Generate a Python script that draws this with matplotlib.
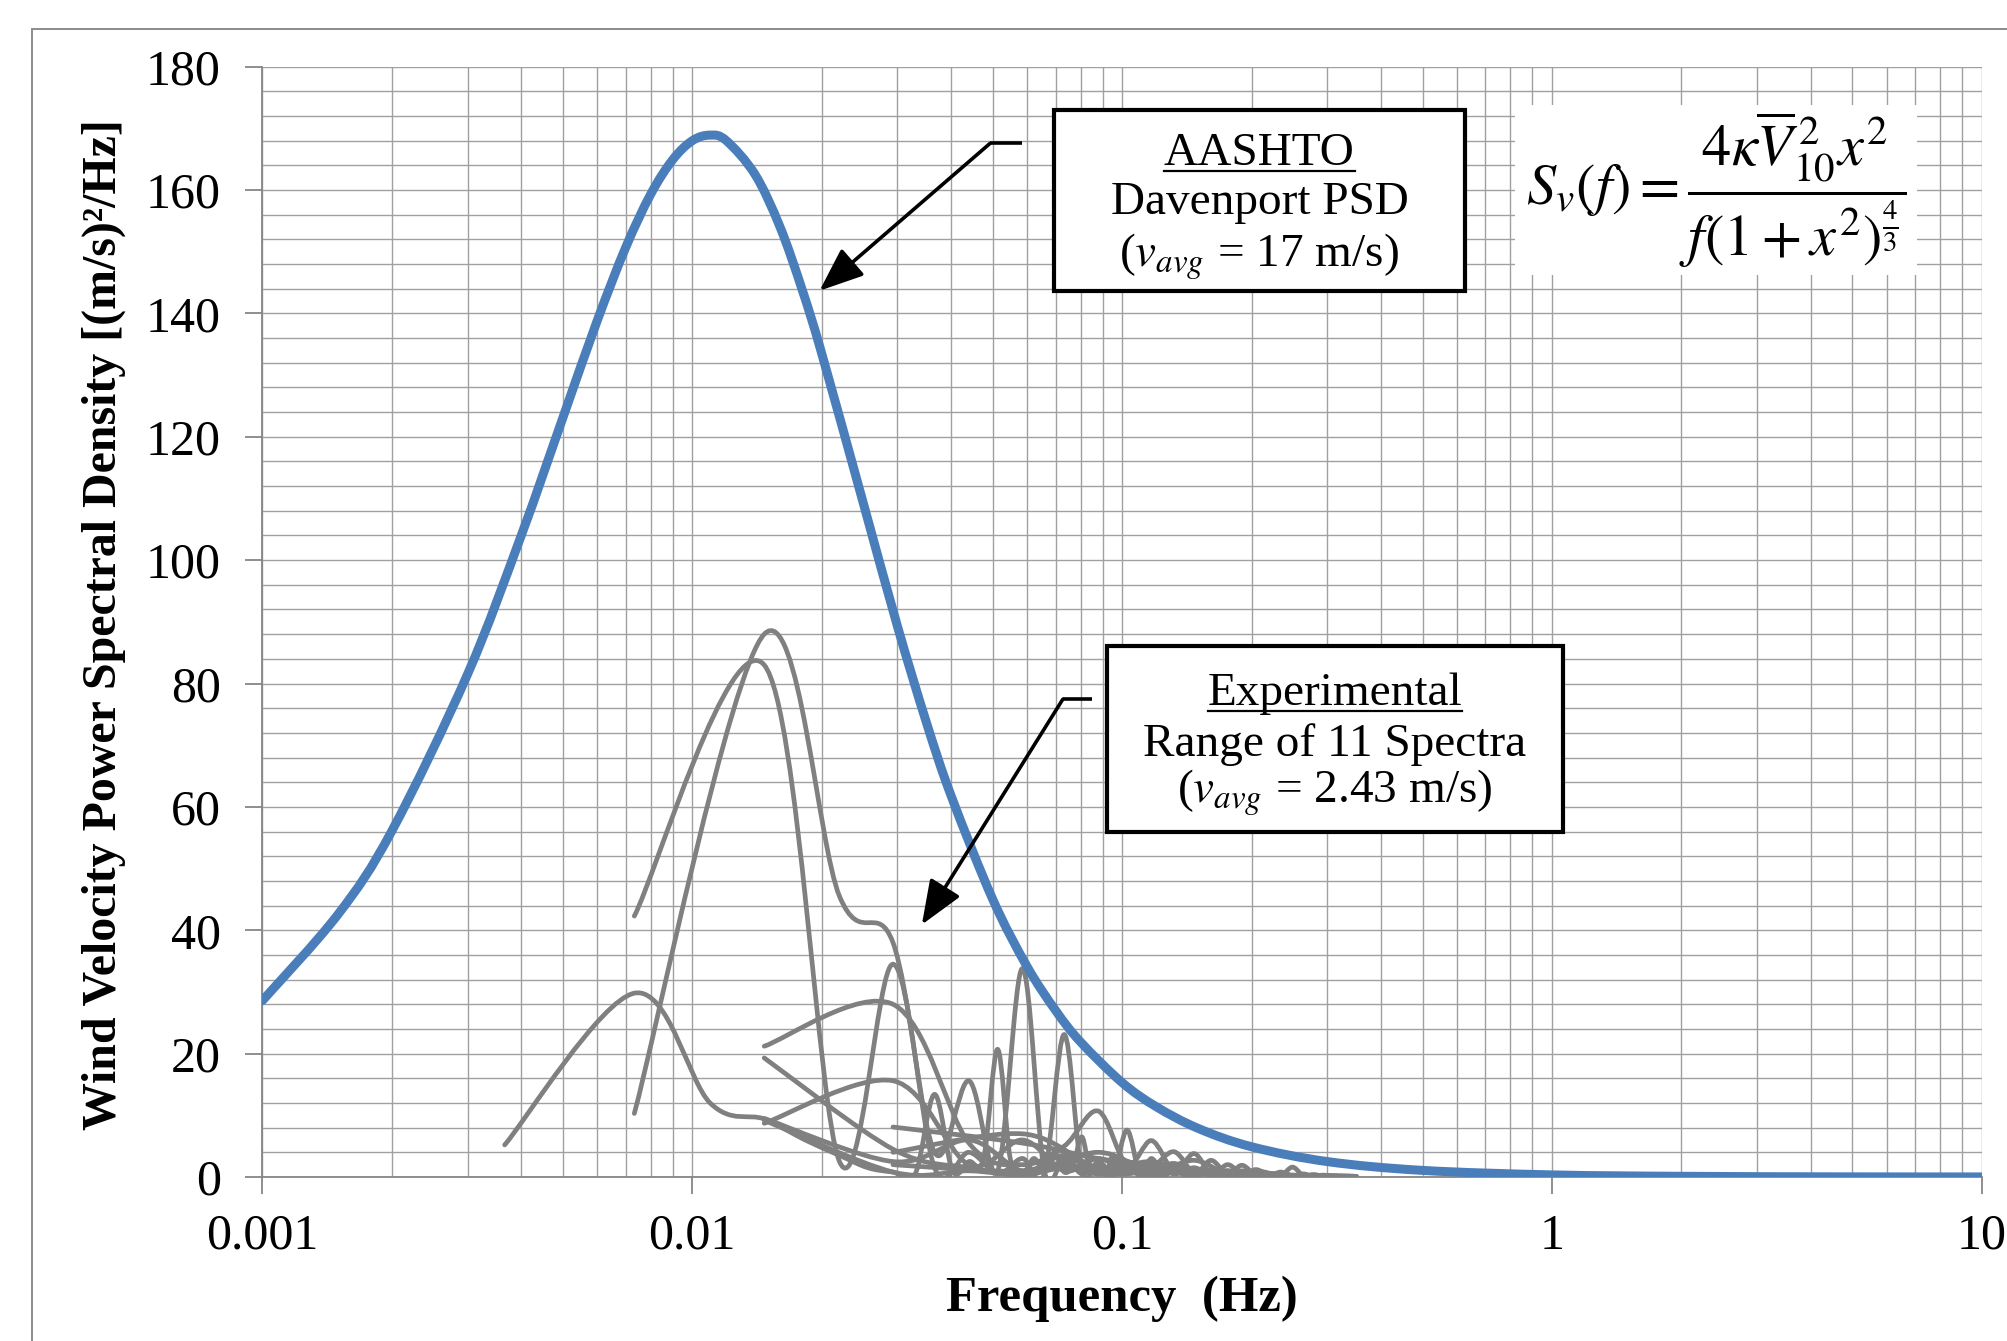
import numpy as np
import matplotlib
matplotlib.use("Agg")
import matplotlib.pyplot as plt
from matplotlib.path import Path
from matplotlib.patches import PathPatch, Rectangle
from matplotlib.ticker import FixedLocator, FuncFormatter, MultipleLocator, NullFormatter

plt.rcParams['font.family'] = ['Liberation Serif', 'DejaVu Serif']
plt.rcParams['mathtext.fontset'] = 'stix'

# AASHTO Davenport PSD (v_avg = 17 m/s)
freq_psd = [0.001, 0.0015, 0.002, 0.003, 0.004, 0.005, 0.006, 0.007, 0.008, 0.009,
            0.010, 0.011, 0.012, 0.014, 0.016, 0.018, 0.020, 0.025, 0.030, 0.035,
            0.04, 0.05, 0.06, 0.07, 0.08, 0.1, 0.12, 0.15, 0.2, 0.3, 0.5, 1, 2, 5, 10]
psd = [28.6, 42.6, 56.1, 81.5, 104.0, 123.1, 138.7, 150.7, 159.3, 164.9,
       168.0, 168.9, 168.0, 162.5, 154.0, 143.9, 133.5, 109.2, 89.3, 73.8,
       61.8, 45.0, 34.2, 27.0, 21.9, 15.3, 11.4, 7.9, 4.9, 2.5, 1.07, 0.34, 0.11, 0.02, 0.01]

# experimental spectra, three frequency resolutions
freq_a = [0.00366, 0.00733, 0.0110, 0.0147, 0.0183, 0.0220, 0.0256, 0.0293, 0.0330, 0.0366,
          0.0403, 0.0440, 0.0476, 0.0513, 0.0549, 0.0586, 0.0623, 0.0659, 0.0696, 0.0733,
          0.0769, 0.0806, 0.0842, 0.0879, 0.0916, 0.0952, 0.0989, 0.1026, 0.117, 0.132,
          0.147, 0.161, 0.176, 0.19, 0.205, 0.22, 0.25, 0.28, 0.32, 0.35]
spec_a = [5.2, 29.8, 12.0, 9.4, 6.0, 3.5, 1.5, 0.8, 0.5, 13.4,
          1.0, 2.5, 3.0, 20.7, 3.0, 0.5, 3.0, 1.0, 4.0, 0.8,
          2.0, 6.5, 1.0, 2.0, 0.5, 3.5, 0.8, 2.0, 1.0, 2.2,
          0.5, 1.2, 0.4, 1.0, 0.3, 0.6, 0.2, 0.3, 0.1, 0.1]

freq_b = [0.00733, 0.0147, 0.0220, 0.0293, 0.0366, 0.0440, 0.0513, 0.0586, 0.0659, 0.0733,
          0.0806, 0.0879, 0.0952, 0.1026, 0.110, 0.117, 0.125, 0.132, 0.147, 0.161,
          0.176, 0.19, 0.22, 0.25, 0.29, 0.35]
spec_b = [42.3, 83.0, 2.5, 34.5, 1.5, 4.0, 0.5, 3.0, 0.5, 23.1,
          0.8, 2.5, 0.5, 1.5, 0.3, 1.2, 0.3, 0.9, 0.3, 0.8,
          0.2, 0.5, 0.2, 0.3, 0.1, 0.1]
spec_c = [10.3, 88.0, 45.5, 38.0, 4.0, 15.6, 1.0, 33.8, 1.0, 3.0,
          0.5, 1.5, 0.3, 7.6, 0.5, 3.0, 0.3, 1.5, 1.0, 0.3,
          0.8, 0.2, 0.4, 0.1, 0.2, 0.1]

freq_e = [0.0147, 0.0293, 0.0440, 0.0586, 0.0733, 0.0879, 0.1026, 0.117, 0.132, 0.147,
          0.161, 0.176, 0.19, 0.205, 0.22, 0.234, 0.249, 0.264, 0.279, 0.293, 0.32, 0.35]
spec_e = [21.2, 28.0, 5.5, 2.0, 5.0, 10.7, 2.0, 5.9, 1.0, 3.8, 0.5, 2.0, 0.5, 1.2, 0.3, 0.8, 0.2, 0.5, 0.1, 0.3, 0.1, 0.1]
spec_f = [19.3, 4.5, 1.5, 0.5, 2.0, 0.8, 0.5, 1.5, 4.1, 0.5, 1.0, 0.3, 1.9, 0.2, 0.5, 0.2, 1.6, 0.2, 0.4, 0.1, 0.2, 0.1]
spec_g = [8.7, 15.6, 2.0, 6.0, 1.0, 3.0, 1.0, 2.0, 0.5, 1.5, 0.3, 1.0, 0.2, 0.6, 0.2, 0.5, 0.1, 0.3, 0.1, 0.2, 0.1, 0.1]
spec_h = [9.2, 0.8, 1.0, 0.3, 1.5, 0.5, 1.0, 0.3, 0.8, 0.2, 2.7, 0.2, 0.5, 0.1, 0.3, 0.1, 0.2, 0.1, 0.2, 0.1, 0.1, 0.1]
spec_k = [9.5, 2.5, 6.0, 1.0, 3.5, 0.5, 2.5, 0.3, 1.0, 0.2, 0.8, 0.2, 0.6, 0.1, 0.4, 0.1, 0.3, 0.1, 0.2, 0.1, 0.1, 0.1]

freq_i = [0.0293, 0.0586, 0.0879, 0.117, 0.147, 0.176, 0.205, 0.234, 0.264, 0.293, 0.35]
spec_i = [8.1, 5.5, 3.0, 2.0, 1.0, 0.8, 0.5, 0.3, 0.2, 0.1, 0.1]
spec_j = [4.0, 7.0, 1.5, 2.5, 0.5, 1.0, 0.2, 0.4, 0.1, 0.1, 0.1]
spec_l = [2.0, 1.0, 4.0, 1.0, 2.7, 0.5, 1.0, 0.2, 0.3, 0.1, 0.1]

spectra = [(freq_a, spec_a), (freq_b, spec_b), (freq_b, spec_c),
           (freq_e, spec_e), (freq_e, spec_f), (freq_e, spec_g), (freq_e, spec_h), (freq_e, spec_k),
           (freq_i, spec_i), (freq_i, spec_j), (freq_i, spec_l)]

x_ticks = [0.001, 0.01, 0.1, 1, 10]


def smooth_path(fs, vs):
    # excel style smoothed line: catmull-rom as cubic bezier, in log-x space
    x = np.log10(np.asarray(fs, float))
    y = np.asarray(vs, float)
    n = len(x)
    verts = [(x[0], y[0])]
    codes = [Path.MOVETO]
    for i in range(n - 1):
        xp, yp = (x[i - 1], y[i - 1]) if i > 0 else (x[i], y[i])
        xn, yn = (x[i + 2], y[i + 2]) if i + 2 < n else (x[i + 1], y[i + 1])
        verts.append((x[i] + (x[i + 1] - xp) / 6, y[i] + (y[i + 1] - yp) / 6))
        verts.append((x[i + 1] - (xn - x[i]) / 6, y[i + 1] - (yn - y[i]) / 6))
        verts.append((x[i + 1], y[i + 1]))
        codes += [Path.CURVE4] * 3
    verts = np.array(verts)
    verts[:, 0] = 10 ** verts[:, 0]
    return Path(verts, codes)


fig = plt.figure(figsize=(20.08, 13.41), dpi=100)
ax = fig.add_axes([0.1307, 0.1223, 0.8563, 0.8280])

# outer chart border
fig.patches.append(Rectangle((32 / 2008, -0.1), 1.2, 1.1 - 29 / 1341, transform=fig.transFigure,
                             fill=False, ec='#8c8c8c', lw=1.4))

ax.set_xscale('log')
ax.set_xlim(0.001, 10)
ax.set_ylim(0, 180)

grid_c = '#a0a0a0'
ax.yaxis.set_major_locator(MultipleLocator(20))
ax.yaxis.set_minor_locator(MultipleLocator(4))
ax.xaxis.set_major_locator(FixedLocator(x_ticks))
ax.xaxis.set_major_formatter(FuncFormatter(lambda v, p: '%g' % v))
ax.xaxis.set_minor_formatter(NullFormatter())
ax.grid(True, which='both', color=grid_c, lw=1.0)
ax.set_axisbelow(True)
for s in ['top', 'right']:
    ax.spines[s].set_visible(False)
for s in ['left', 'bottom']:
    ax.spines[s].set_color('#868686')
    ax.spines[s].set_linewidth(1.3)
ax.tick_params(which='major', length=12, width=1.3, color='#868686', labelsize=36)
ax.tick_params(axis='y', which='major', pad=18)
ax.tick_params(axis='x', which='major', pad=14)
ax.tick_params(which='minor', length=0)

for fs, vs in spectra:
    ax.add_patch(PathPatch(smooth_path(fs, vs), fill=False, ec='#808080', lw=3.4,
                           capstyle='round', joinstyle='round', zorder=3))
ax.add_patch(PathPatch(smooth_path(freq_psd, psd), fill=False, ec='#4a7ebb', lw=6.5,
                       capstyle='round', zorder=4))

ax.set_xlabel('Frequency  (Hz)', fontsize=36.5, fontweight='bold')
ax.xaxis.set_label_coords(0.5, -0.089)
ax.set_ylabel('Wind Velocity Power Spectral Density [(m/s)²/Hz]', fontsize=34.5, fontweight='bold')
ax.yaxis.set_label_coords(-0.0794, 0.4976)

# annotation boxes
box_kw = dict(transform=ax.transAxes, fc='white', ec='black', lw=3, zorder=6)
ax.add_patch(Rectangle((0.4603, 0.7979), 0.2390, 0.1630, **box_kw))
ax.add_patch(Rectangle((0.4911, 0.3107), 0.2652, 0.1675, **box_kw))
ax.add_patch(Rectangle((0.7284, 0.8123), 0.2338, 0.1531, transform=ax.transAxes,
                       fc='white', ec='none', zorder=6))

txt_kw = dict(transform=ax.transAxes, ha='center', va='baseline', fontsize=34, zorder=7)
t1 = ax.text(0.5798, 0.9114, 'AASHTO', **txt_kw)
ax.text(0.5798, 0.8672, 'Davenport PSD', **txt_kw)
ax.text(0.5798, 0.8198, r'($v_{avg}$ = 17 m/s)', **txt_kw)
t2 = ax.text(0.6238, 0.4251, 'Experimental', **txt_kw)
ax.text(0.6238, 0.3790, 'Range of 11 Spectra', **txt_kw)
ax.text(0.6238, 0.3370, r'($v_{avg}$ = 2.43 m/s)', **txt_kw)

ax.text(0.8453, 0.8889,
        r'$S_v\left(f\right)=\dfrac{4\kappa\overline{V}_{10}^{\,2}x^2}{f\left(1+x^2\right)^{\frac{4}{3}}}$',
        transform=ax.transAxes, ha='center', va='center', fontsize=42, zorder=7)

# arrows
for (x0, x1, y0), head in [((0.4417, 0.4231, 0.9308), (0.3240, 0.7982)),
                           ((0.4826, 0.4655, 0.4303), (0.3835, 0.2273))]:
    ax.plot([x0, x1], [y0, y0], transform=ax.transAxes, color='black', lw=2.6,
            solid_capstyle='butt', zorder=6, clip_on=False)
    ax.annotate('', xy=head, xycoords='axes fraction', xytext=(x1, y0), textcoords='axes fraction',
                arrowprops=dict(arrowstyle='-|>,head_length=0.8,head_width=0.32', color='black',
                                lw=2.6, mutation_scale=34, shrinkA=0, shrinkB=0), zorder=6)

# underline the box titles
fig.canvas.draw()
inv = ax.transAxes.inverted()
for t, y in [(t1, 0.9114), (t2, 0.4251)]:
    bb = t.get_window_extent()
    (xa, _), (xb, _) = inv.transform([(bb.x0, bb.y0), (bb.x1, bb.y1)])
    ax.plot([xa, xb], [y - 0.0055, y - 0.0055], transform=ax.transAxes, color='black',
            lw=1.6, zorder=7)

fig.savefig('out.png', dpi=100)
